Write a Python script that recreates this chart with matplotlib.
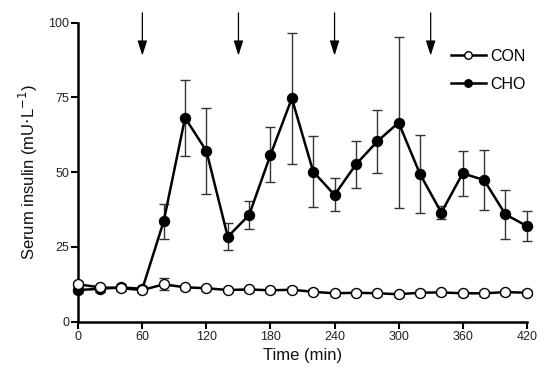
import numpy as np
import matplotlib
matplotlib.use("Agg")
import matplotlib.pyplot as plt

plt.rcParams['font.family'] = ['Liberation Sans', 'DejaVu Sans']

# data
time_min = [0, 20, 40, 60, 80, 100, 120, 140, 160, 180, 200,
            220, 240, 260, 280, 300, 320, 340, 360, 380, 400, 420]
cho_mean = [10.6, 11.0, 11.5, 11.0, 33.6, 68.2, 57.1, 28.4, 35.7, 55.8, 74.7,
            50.2, 42.4, 52.6, 60.3, 66.6, 49.4, 36.5, 49.6, 47.4, 35.9, 32.0]
cho_err = [1.0, 1.0, 1.0, 1.0, 5.8, 12.7, 14.3, 4.5, 4.6, 9.2, 21.9,
           12.0, 5.5, 8.0, 10.6, 28.5, 13.0, 2.2, 7.4, 10.0, 8.3, 5.0]
con_mean = [12.5, 11.5, 11.2, 10.6, 12.5, 11.5, 11.2, 10.6, 10.8, 10.5, 10.7,
            10.0, 9.5, 9.7, 9.5, 9.2, 9.7, 9.8, 9.5, 9.5, 9.9, 9.7]
con_err = [1.0, 0.8, 0.8, 0.8, 2.0, 0.8, 0.8, 0.8, 0.8, 0.8, 0.8,
           0.8, 0.8, 0.8, 0.8, 0.8, 0.8, 0.8, 0.8, 0.8, 0.8, 0.8]
arrow_times = [60, 150, 240, 330]
x_ticks = [0, 60, 120, 180, 240, 300, 360, 420]
y_ticks = [0, 25, 50, 75, 100]

fig = plt.figure(figsize=(5.58, 3.87), dpi=100)
ax = fig.add_axes([0.1403, 0.1687, 0.944 - 0.1403, 0.9413 - 0.1687])

# CHO (filled) underneath CON (open)
eb = ax.errorbar(time_min, cho_mean, yerr=cho_err, fmt='none', ecolor='#333333',
                 elinewidth=1.0, capsize=3.6, capthick=1.0, zorder=2)
for c in eb.get_children():
    c.set_clip_on(False)
ax.plot(time_min, cho_mean, '-o', color='black', lw=1.8, ms=7.2,
        mfc='black', mec='black', label='CHO', zorder=3, clip_on=False)

eb2 = ax.errorbar(time_min, con_mean, yerr=con_err, fmt='none', ecolor='#333333',
                  elinewidth=1.0, capsize=3.6, capthick=1.0, zorder=4)
for c in eb2.get_children():
    c.set_clip_on(False)
ax.plot(time_min, con_mean, '-o', color='black', lw=1.8, ms=7.2,
        mfc='white', mec='black', mew=1.0, label='CON', zorder=5, clip_on=False)

# arrows marking the feedings
for t in arrow_times:
    ax.annotate('', xy=(t, 89.0), xytext=(t, 103.3), annotation_clip=False,
                arrowprops=dict(arrowstyle='-|>,head_length=0.75,head_width=0.24',
                                color='black', lw=0.9,
                                mutation_scale=12, shrinkA=0, shrinkB=0))

ax.set_xlim(0, 420)
ax.set_ylim(0, 100)
ax.set_xticks(x_ticks)
ax.set_yticks(y_ticks)
ax.spines['top'].set_visible(False)
ax.spines['right'].set_visible(False)
for s in ('left', 'bottom'):
    ax.spines[s].set_linewidth(1.8)
ax.tick_params(width=1.5, length=5, labelsize=9, direction='out', pad=1.5,
               labelcolor='#222222')

ax.set_xlabel('Time (min)', fontsize=12, labelpad=4, color='#111111')
ax.set_ylabel('Serum insulin (mU$\\cdot$L$^{-1}$)', fontsize=12, labelpad=6,
              color='#111111')

h, l = ax.get_legend_handles_labels()
ax.legend([h[1], h[0]], [l[1], l[0]], loc='upper right', bbox_to_anchor=(1.03, 0.96),
          frameon=False, fontsize=11.5, handlelength=2.2, handletextpad=0.3,
          labelspacing=0.8, markerscale=0.75)

fig.savefig('out.png', dpi=100)
